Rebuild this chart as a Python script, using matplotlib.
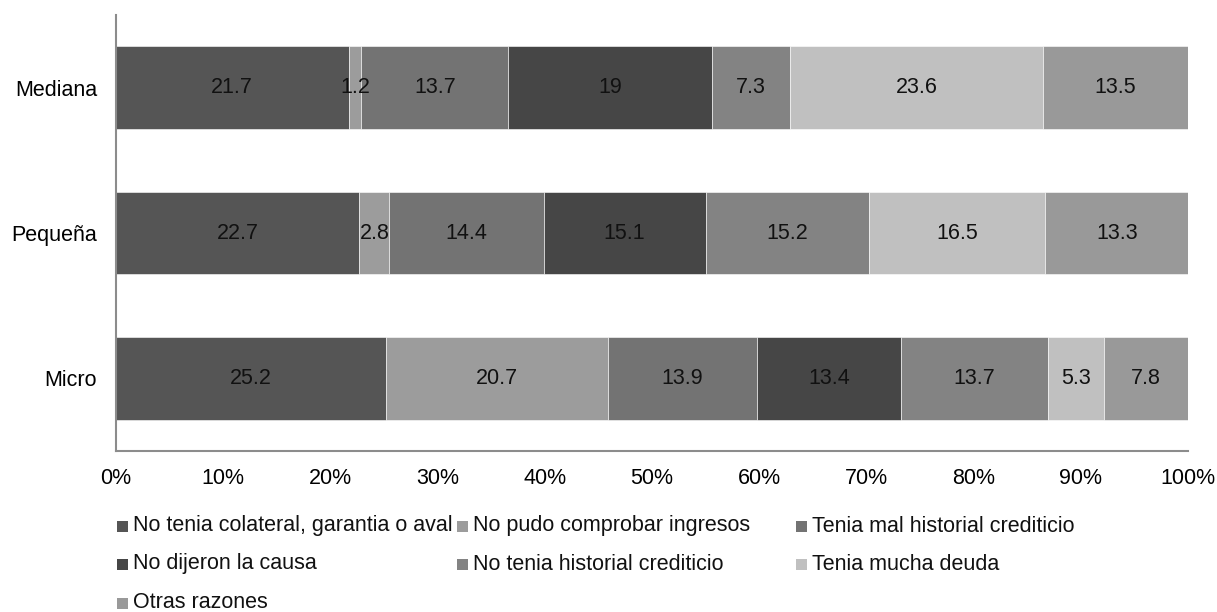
import matplotlib
matplotlib.use("Agg")
import matplotlib.pyplot as plt
from matplotlib.patches import Rectangle

plt.rcParams['font.family'] = ['Liberation Sans', 'DejaVu Sans']

categories = ["Micro", "Pequeña", "Mediana"]
series_names = [
    "No tenia colateral, garantia o aval",
    "No pudo comprobar ingresos",
    "Tenia mal historial crediticio",
    "No dijeron la causa",
    "No tenia historial crediticio",
    "Tenia mucha deuda",
    "Otras razones",
]
# one list per reason, ordered Micro, Pequeña, Mediana
colateral = [25.2, 22.7, 21.7]
ingresos = [20.7, 2.8, 1.2]
mal_historial = [13.9, 14.4, 13.7]
sin_causa = [13.4, 15.1, 19.0]
sin_historial = [13.7, 15.2, 7.3]
mucha_deuda = [5.3, 16.5, 23.6]
otras = [7.8, 13.3, 13.5]
series_values = [colateral, ingresos, mal_historial, sin_causa,
                 sin_historial, mucha_deuda, otras]
x_ticks = [0, 10, 20, 30, 40, 50, 60, 70, 80, 90, 100]
x_tick_labels = ["0%", "10%", "20%", "30%", "40%", "50%", "60%", "70%", "80%", "90%", "100%"]

colors = ["#555555", "#9c9c9c", "#737373", "#464646", "#838383", "#c0c0c0", "#999999"]

W, H = 1217, 612
fig = plt.figure(figsize=(W / 100, H / 100), dpi=100)
ax = fig.add_axes([116 / W, 1 - 451 / H, (1188 - 116) / W, (451 - 15) / H])

fs = 15.5
ypos = list(range(len(categories)))
left = [0.0] * len(categories)
for name, vals, col in zip(series_names, series_values, colors):
    bars = ax.barh(ypos, vals, left=left, height=0.57, color=col,
                   edgecolor="white", linewidth=0.4, label=name)
    for b, v in zip(bars, vals):
        txt = f"{v:g}"
        ax.text(b.get_x() + b.get_width() / 2, b.get_y() + b.get_height() / 2,
                txt, ha="center", va="center", fontsize=fs, color="#111111")
    left = [l + v for l, v in zip(left, vals)]

ax.set_xlim(0, 100)
ax.set_ylim(-0.5, len(categories) - 0.5)
ax.set_xticks(x_ticks)
ax.set_xticklabels(x_tick_labels, fontsize=fs)
ax.set_yticks(ypos)
ax.set_yticklabels(categories, fontsize=fs)
ax.tick_params(axis="x", length=0, pad=12)
ax.tick_params(axis="y", length=0, pad=13.5)
for s in ("top", "right"):
    ax.spines[s].set_visible(False)
for s in ("left", "bottom"):
    ax.spines[s].set_color("#8c8c8c")
    ax.spines[s].set_linewidth(1.5)

# legend laid out in three fixed-width columns, filled row by row
col_x = [117, 457, 796]
row_y = [526, 564, 603]
sq = 11
for i, (name, col) in enumerate(zip(series_names, colors)):
    r, c = divmod(i, 3)
    x0, yc = col_x[c], row_y[r]
    fig.patches.append(Rectangle((x0 / W, 1 - (yc + sq / 2) / H), sq / W, sq / H,
                                 transform=fig.transFigure, facecolor=col,
                                 edgecolor="none"))
    fig.text((x0 + 16) / W, 1 - yc / H, name, ha="left", va="center",
             fontsize=fs, color="#111111")

fig.savefig("out.png", dpi=100)
